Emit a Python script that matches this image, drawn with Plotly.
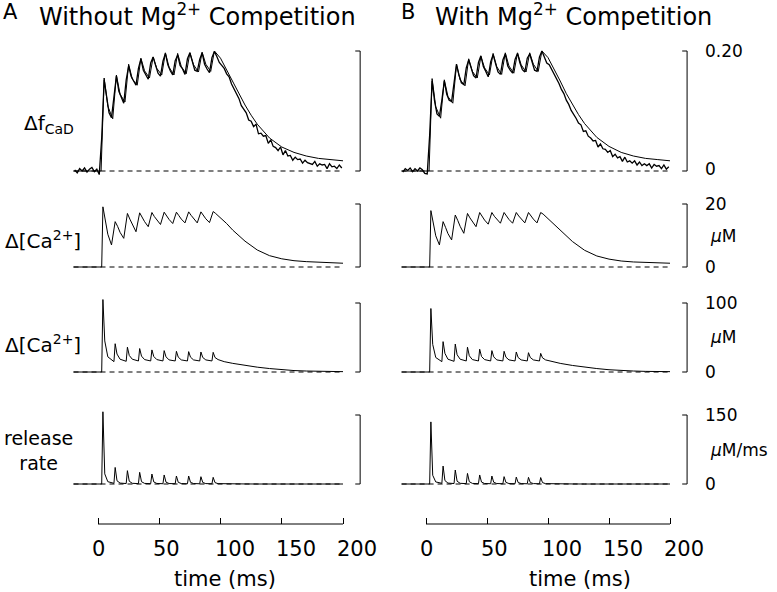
import plotly.graph_objects as go

W, H = 777, 592
FONT = "DejaVu Sans"

# ---------------- data ----------------
# time grid (ms) for the fitted fluorescence trace
t_fit = [-20, 2.5, 5, 8, 12, 15, 18, 22, 25, 28, 32, 35, 38, 42, 45, 48, 52, 55, 58,
         62, 65, 68, 72, 75, 78, 82, 85, 88, 92, 95, 100, 105, 110, 115, 120, 125, 130,
         140, 150, 160, 170, 180, 190, 200]
fit_A = [0, 0,
         0.155, 0.108, 0.087,
         0.160, 0.128, 0.115,
         0.178, 0.153, 0.143,
         0.188, 0.167, 0.155,
         0.190, 0.171, 0.160,
         0.197, 0.173, 0.160,
         0.196, 0.174, 0.162,
         0.197, 0.177, 0.165,
         0.198, 0.178, 0.166,
         0.200, 0.188, 0.168, 0.148, 0.128, 0.110, 0.093, 0.078,
         0.055, 0.040, 0.031, 0.025, 0.021, 0.019, 0.017]
fit_B = [0, 0,
         0.154, 0.107, 0.088,
         0.152, 0.124, 0.113,
         0.177, 0.152, 0.142,
         0.187, 0.166, 0.155,
         0.191, 0.172, 0.160,
         0.196, 0.174, 0.161,
         0.197, 0.175, 0.163,
         0.197, 0.177, 0.165,
         0.197, 0.178, 0.166,
         0.200, 0.189, 0.170, 0.150, 0.129, 0.111, 0.094, 0.079,
         0.056, 0.041, 0.031, 0.025, 0.021, 0.019, 0.017]

# measured fluorescence (sampled every 2 ms, from -19 ms to 199 ms)
t_obs = list(range(-19, 200, 2))
obs_A = [0.002, -0.003, 0.004, 0.000, 0.005, -0.002, 0.003, 0.006, -0.001, 0.003,
         -0.006, 0.055, 0.152, 0.120, 0.097,
         0.089, 0.124, 0.158, 0.133, 0.122,
         0.113, 0.152, 0.175, 0.158, 0.149,
         0.143, 0.171, 0.187, 0.168, 0.161,
         0.153, 0.180, 0.190, 0.176, 0.163,
         0.158, 0.183, 0.196, 0.177, 0.167,
         0.160, 0.184, 0.193, 0.176, 0.170,
         0.161, 0.187, 0.197, 0.181, 0.168,
         0.166, 0.186, 0.197, 0.178, 0.170,
         0.164, 0.189, 0.199, 0.191, 0.181,
         0.176, 0.171, 0.162, 0.157, 0.145, 0.137, 0.127, 0.121, 0.109, 0.103,
         0.097, 0.085, 0.083, 0.074, 0.078, 0.062, 0.063, 0.058, 0.059, 0.046,
         0.052, 0.041, 0.039, 0.034, 0.040, 0.027, 0.034, 0.025, 0.026, 0.018,
         0.023, 0.019, 0.020, 0.013, 0.018, 0.014, 0.012, 0.011, 0.016, 0.008,
         0.012, 0.010, 0.011, 0.004, 0.012, 0.007, 0.008, 0.004, 0.010, 0.005]
obs_B = [-0.002, 0.004, 0.001, 0.005, -0.001, 0.004, 0.000, 0.005, 0.002, -0.004,
         -0.005, 0.060, 0.150, 0.117, 0.095,
         0.091, 0.118, 0.150, 0.128, 0.118,
         0.116, 0.150, 0.178, 0.160, 0.147,
         0.144, 0.172, 0.185, 0.170, 0.159,
         0.155, 0.181, 0.192, 0.174, 0.166,
         0.157, 0.182, 0.194, 0.179, 0.165,
         0.161, 0.185, 0.195, 0.175, 0.168,
         0.163, 0.186, 0.196, 0.180, 0.169,
         0.165, 0.188, 0.195, 0.179, 0.168,
         0.166, 0.190, 0.200, 0.189, 0.180,
         0.177, 0.169, 0.163, 0.154, 0.146, 0.136, 0.129, 0.118, 0.111, 0.101,
         0.095, 0.088, 0.080, 0.077, 0.066, 0.067, 0.058, 0.055, 0.050, 0.051,
         0.040, 0.045, 0.037, 0.036, 0.031, 0.034, 0.024, 0.028, 0.022, 0.024,
         0.016, 0.023, 0.015, 0.017, 0.013, 0.017, 0.010, 0.015, 0.009, 0.012,
         0.009, 0.012, 0.005, 0.011, 0.008, 0.009, 0.004, 0.010, 0.003, 0.007]

# time grid (ms) for the spatially averaged [Ca2+]
t_avg = [-20, 3, 4, 6, 8, 11,
         14, 16, 18, 21,
         24, 26, 28, 31,
         34, 36, 38, 41,
         44, 46, 48, 51,
         54, 56, 58, 61,
         64, 66, 68, 71,
         74, 76, 78, 81,
         84, 86, 88, 91,
         94, 96, 100, 105,
         110, 120, 130, 140, 150, 160, 170, 180, 190, 200]
ca_avg_A = [0, 0, 19.1, 14.3, 10.4, 7.0,
            14.4, 12.9, 11.0, 9.1,
            17.0, 15.2, 13.4, 11.2,
            17.2, 15.7, 14.4, 12.8,
            17.3, 16.0, 14.9, 13.5,
            17.4, 16.2, 15.1, 13.8,
            17.4, 16.3, 15.2, 14.0,
            17.5, 16.4, 15.3, 14.0,
            17.5, 16.4, 15.3, 14.1,
            17.6, 17.0, 15.6, 13.8,
            11.7, 8.2, 5.4, 3.6, 2.6, 2.0, 1.7, 1.5, 1.35, 1.2]
ca_avg_B = [0, 0, 17.9, 13.4, 9.9, 7.0,
            14.4, 12.6, 10.6, 8.6,
            16.5, 14.8, 12.9, 10.7,
            17.0, 15.6, 14.3, 12.8,
            17.3, 16.0, 14.9, 13.6,
            17.3, 16.1, 15.1, 13.9,
            17.3, 16.2, 15.1, 13.9,
            17.3, 16.2, 15.2, 14.0,
            17.3, 16.2, 15.2, 14.0,
            17.3, 16.8, 15.4, 13.6,
            11.6, 8.1, 5.3, 3.5, 2.5, 1.9, 1.6, 1.4, 1.3, 1.2]

# time grid (ms) for local [Ca2+] and release rate
t_sim = [-20, 3,
         4, 5.5, 8, 13,
         14, 15.5, 18, 23,
         24, 25.5, 28, 33,
         34, 35.5, 38, 43,
         44, 45.5, 48, 53,
         54, 55.5, 58, 63,
         64, 65.5, 68, 73,
         74, 75.5, 78, 83,
         84, 85.5, 88, 93,
         94, 95.5, 98, 103,
         110, 120, 130, 140, 150, 160, 170, 180, 190, 200]

# local [Ca2+] (uM)
ca_loc_A = [0, 0,
            105, 45, 22, 15,
            41, 26, 18.5, 15.5,
            36, 24, 18.5, 16,
            34, 23, 18, 16,
            32, 22.5, 18, 16,
            31, 22, 17.5, 16,
            30, 21.5, 17.5, 16,
            29.5, 21.5, 17.5, 16,
            29, 21, 17.5, 16,
            28.5, 21, 18, 15,
            12.5, 9.5, 7, 5, 3.3, 2.1, 1.4, 0.9, 0.7, 0.5]
ca_loc_B = [0, 0,
            92, 40, 21, 15,
            44, 27, 18.5, 15.5,
            40.5, 25, 18.5, 16,
            36, 23.5, 18, 16,
            33, 22.5, 18, 16,
            31, 22, 17.5, 16,
            30, 21.5, 17.5, 16,
            29, 21, 17.5, 16,
            28, 21, 17.5, 16,
            27, 20.5, 17.5, 15,
            12.5, 9.5, 7, 5, 3.3, 2.1, 1.4, 0.9, 0.7, 0.5]

# release rate (uM/ms)
rel_A = [0, 0,
         157, 22, 5, 1.5,
         36, 7, 2, 1,
         29, 6, 1.5, 0.8,
         25.4, 5, 1.3, 0.7,
         21.7, 4.5, 1.2, 0.6,
         19.6, 4, 1, 0.6,
         17.4, 3.6, 1, 0.5,
         17.4, 3.6, 1, 0.5,
         15.9, 3.3, 0.9, 0.5,
         14.5, 3, 0.8, 0.3,
         0.2, 0.1, 0, 0, 0, 0, 0, 0, 0, 0]
rel_B = [0, 0,
         135, 19, 4.5, 1.5,
         39, 7.5, 2, 1,
         30.4, 6, 1.5, 0.8,
         23, 5, 1.3, 0.7,
         19.6, 4.2, 1.1, 0.6,
         17.4, 3.8, 1, 0.6,
         16, 3.5, 1, 0.5,
         15, 3.3, 0.9, 0.5,
         14.5, 3.2, 0.9, 0.5,
         14, 3, 0.8, 0.3,
         0.2, 0.1, 0, 0, 0, 0, 0, 0, 0, 0]

scale_top = [0.20, 20, 100, 150]
scale_top_labels = ["0.20", "20", "100", "150"]
scale_units = ["", "<i>μ</i>M", "<i>μ</i>M", "<i>μ</i>M/ms"]
row_labels = ["Δf<sub>CaD</sub>", "Δ[Ca<sup>2+</sup>]", "Δ[Ca<sup>2+</sup>]", "release<br>rate"]
time_ticks = [0, 50, 100, 150, 200]
panel_letters = ["A", "B"]
panel_titles = ["Without Mg<sup>2+</sup> Competition", "With Mg<sup>2+</sup> Competition"]

# ---------------- layout geometry (page pixels) ----------------
def px(x):
    return x / W

def py(y):
    return 1 - y / H

col_dom = [(67.4, 367.5), (395.5, 694.4)]
x_range = [-25, 220]
row_dom = [(39, 183), (197.7, 273.3), (296.1, 378.9), (408.1, 490.9)]  # top, bottom px
y_ranges = [[-0.02, 0.22], [-2, 22], [-10, 110], [-15, 165]]
bar_t, bar_tick = 214, 4.0
axis_y_px = 524

fig = go.Figure()
layout = dict(width=W, height=H, margin=dict(l=0, r=0, t=0, b=0),
              paper_bgcolor="white", plot_bgcolor="white", showlegend=False,
              font=dict(family=FONT, color="black"))
annotations = []
shapes = []

series = {
    (1, 0): (t_avg, ca_avg_A), (1, 1): (t_avg, ca_avg_B),
    (2, 0): (t_sim, ca_loc_A), (2, 1): (t_sim, ca_loc_B),
    (3, 0): (t_sim, rel_A), (3, 1): (t_sim, rel_B),
}

LINE = dict(color="black", width=1)
for r in range(4):
    for c in range(2):
        n = r * 2 + c + 1
        xa = "x" if n == 1 else f"x{n}"
        ya = "y" if n == 1 else f"y{n}"
        xk = "xaxis" if n == 1 else f"xaxis{n}"
        yk = "yaxis" if n == 1 else f"yaxis{n}"
        top, bot = row_dom[r]
        layout[xk] = dict(domain=[px(col_dom[c][0]), px(col_dom[c][1])], range=x_range,
                          visible=False, anchor=ya, fixedrange=True)
        layout[yk] = dict(domain=[py(bot), py(top)], range=y_ranges[r],
                          visible=False, anchor=xa, fixedrange=True)
        # dashed baseline
        fig.add_trace(go.Scatter(x=[-20, 200], y=[0, 0], xaxis=xa, yaxis=ya, mode="lines",
                                 line=dict(color="black", width=1, dash="5px,4px"),
                                 hoverinfo="skip"))
        if r == 0:
            obs = obs_A if c == 0 else obs_B
            fit = fit_A if c == 0 else fit_B
            fig.add_trace(go.Scatter(x=t_obs, y=obs, xaxis=xa, yaxis=ya, mode="lines",
                                     line=dict(color="black", width=1.3)))
            fig.add_trace(go.Scatter(x=t_fit, y=fit, xaxis=xa, yaxis=ya, mode="lines",
                                     line=LINE))
        else:
            tt, vv = series[(r, c)]
            fig.add_trace(go.Scatter(x=tt, y=vv, xaxis=xa, yaxis=ya, mode="lines", line=LINE))
        # scale bar
        s = scale_top[r]
        fig.add_trace(go.Scatter(x=[bar_t - bar_tick, bar_t, bar_t, bar_t - bar_tick],
                                 y=[s, s, 0, 0], xaxis=xa, yaxis=ya, mode="lines",
                                 line=dict(color="black", width=1)))
        if c == 1:
            annotations.append(dict(text=scale_top_labels[r], xref="paper", x=px(703),
                                    yref=ya, y=s, xanchor="left", yanchor="middle",
                                    showarrow=False, font=dict(size=17)))
            annotations.append(dict(text="0", xref="paper", x=px(703),
                                    yref=ya, y=0, xanchor="left", yanchor="middle",
                                    yshift=2 if r == 0 else 0,
                                    showarrow=False, font=dict(size=17)))
            if scale_units[r]:
                annotations.append(dict(text=scale_units[r], xref="paper", x=px(708),
                                        yref=ya, y=s / 2, xanchor="left", yanchor="middle",
                                        showarrow=False, font=dict(size=17)))
        # time axis on the last row
        if r == 3:
            layout[xk].update(visible=True, anchor="free", position=py(axis_y_px),
                              showline=False, showgrid=False, zeroline=False,
                              ticks="inside", ticklen=6, tickwidth=1, tickcolor="black",
                              tickmode="array", tickvals=time_ticks, showticklabels=False)
            shapes.append(dict(type="line", xref=xa, yref="paper", x0=time_ticks[0],
                               x1=time_ticks[-1], y0=py(axis_y_px), y1=py(axis_y_px),
                               line=dict(color="black", width=1)))
            for v in time_ticks:
                annotations.append(dict(text=str(v), xref=xa, x=v, yref="paper",
                                        y=py(549), xanchor="left", xshift=-8,
                                        yanchor="middle", showarrow=False,
                                        font=dict(size=21)))

# row labels (left)
label_y = [124, 240, 344, 450]
for r, txt in enumerate(row_labels):
    if r == 3:
        annotations.append(dict(text=txt, xref="paper", x=px(38), yref="paper", y=py(label_y[r]),
                                xanchor="center", yanchor="middle", align="center",
                                showarrow=False, font=dict(size=19)))
    else:
        annotations.append(dict(text=txt, xref="paper", x=px(22 if r == 0 else 3),
                                yref="paper", y=py(label_y[r]), xanchor="left",
                                yanchor="middle", showarrow=False, font=dict(size=20)))

# titles and time-axis titles
for c, (letter, title) in enumerate(zip(panel_letters, panel_titles)):
    annotations.append(dict(text=letter, xref="paper", x=px([1, 399][c]), yref="paper",
                            y=py(12), xanchor="left", yanchor="middle", showarrow=False,
                            font=dict(size=21)))
    annotations.append(dict(text=title, xref="paper", x=px([37, 433][c]), yref="paper",
                            y=py(15), xanchor="left", yanchor="middle", showarrow=False,
                            font=dict(size=24)))
    annotations.append(dict(text="time (ms)", xref="paper", x=px([172, 527][c]),
                            yref="paper", y=py(579), xanchor="left", yanchor="middle",
                            showarrow=False, font=dict(size=21)))

layout["annotations"] = annotations
layout["shapes"] = shapes
fig.update_layout(**layout)
fig.write_html("out.html", config={"displayModeBar": False},
               post_script="document.body.style.margin='0px';"
                           "document.documentElement.style.overflow='hidden';")
